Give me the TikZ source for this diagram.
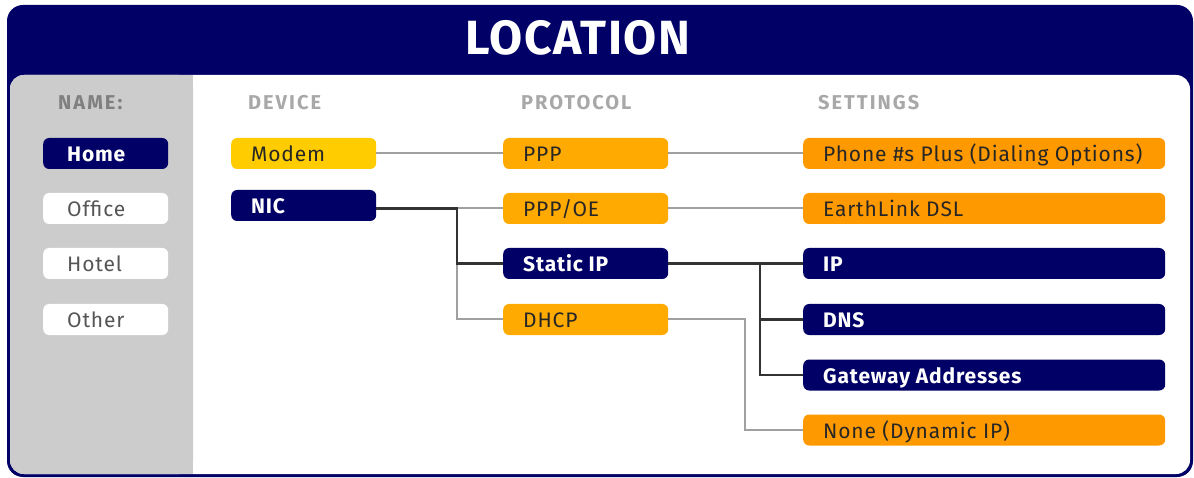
\documentclass[tikz,border=0pt]{standalone}
\usepackage{fontspec}
\setmainfont{Fira Sans}[LetterSpace=4]
\newfontfamily\hdrfont{Fira Sans}[LetterSpace=10]
\newfontfamily\titlefont{Fira Sans}[LetterSpace=3]
\definecolor{navy}{HTML}{000066}
\definecolor{yell}{HTML}{FFCC00}
\definecolor{orgA}{HTML}{FFAA00}
\definecolor{orgB}{HTML}{FF9900}
\definecolor{panel}{HTML}{CCCCCC}
\definecolor{hdr}{HTML}{A8A8A8}
\definecolor{hdrdark}{HTML}{808080}
\definecolor{txtgray}{HTML}{555555}
\definecolor{lightline}{HTML}{A0A0A0}
\definecolor{darkline}{HTML}{333333}
\newcommand{\bt}[2]{\makebox[#1][l]{#2}}
\tikzset{
  box/.style={rounded corners=6pt, minimum height=31pt, inner ysep=0pt, inner xsep=20pt, anchor=west,
    text height=17pt, text depth=0.5pt, font=\fontsize{21}{24}\selectfont},
  namebox/.style={box, fill=white, text=txtgray, inner xsep=24pt},
  homebox/.style={box, fill=navy, text=white, inner xsep=24pt, font=\fontsize{21}{24}\selectfont\bfseries},
  navybox/.style={box, fill=navy, text=white, font=\fontsize{21}{24}\selectfont\bfseries},
  yellbox/.style={box, fill=yell, text=black!85},
  protbox/.style={box, fill=orgA, text=black!85},
  setbox/.style={box, fill=orgB, text=black!85},
  header/.style={anchor=west, text=hdr, inner sep=0pt, font=\hdrfont\fontsize{20}{22}\selectfont\bfseries},
  light/.style={draw=lightline, line width=2pt},
  dark/.style={draw=darkline, line width=2.4pt},
}
\begin{document}
\begin{tikzpicture}[x=1pt,y=-1pt]
\useasboundingbox (0,0) rectangle (1194,478);
% frame
\fill[navy, rounded corners=16pt] (7,5) rectangle (1193,477);
\fill[white, rounded corners=14pt] (10,75) rectangle (1190,474);
\fill[panel, rounded corners=14pt] (10,75) rectangle (193,474);
\fill[panel] (150,75) rectangle (193,474);
\node[text=white, inner sep=0pt, font=\titlefont\fontsize{48}{52}\selectfont\bfseries] (title) at (578,38) {LOCATION};
% headers
\node[header, text=hdrdark] (hname) at (58,103) {NAME:};
\node[header] (hdev) at (248,103) {DEVICE};
\node[header] (hprot) at (521,103) {PROTOCOL};
\node[header] (hset) at (818,103) {SETTINGS};
% name column
\node[homebox, minimum width=125pt] (home) at (43,153.5) {\bt{77pt}{Home}};
\node[namebox, minimum width=125pt] (office) at (43,208.5) {\bt{77pt}{Office}};
\node[namebox, minimum width=125pt] (hotel) at (43,263.5) {\bt{77pt}{Hotel}};
\node[namebox, minimum width=125pt] (other) at (43,319.5) {\bt{77pt}{Other}};
% device column
\node[yellbox, minimum width=145pt] (modem) at (231,153.5) {\bt{105pt}{Modem}};
\node[navybox, minimum width=145pt] (nic) at (231,205.5) {\bt{105pt}{NIC}};
% protocol column
\node[protbox, minimum width=165pt] (ppp) at (503,153.5) {\bt{125pt}{PPP}};
\node[protbox, minimum width=165pt] (pppoe) at (503,208.5) {\bt{125pt}{PPP/OE}};
\node[navybox, minimum width=165pt] (static) at (503,263.5) {\bt{125pt}{Static IP}};
\node[protbox, minimum width=165pt] (dhcp) at (503,319.5) {\bt{125pt}{DHCP}};
% settings column
\node[setbox, minimum width=362pt] (phone) at (803,153.5) {\bt{322pt}{Phone \#s Plus (Dialing Options)}};
\node[setbox, minimum width=362pt] (earth) at (803,208.5) {\bt{322pt}{EarthLink DSL}};
\node[navybox, minimum width=362pt] (ip) at (803,263.5) {\bt{322pt}{IP}};
\node[navybox, minimum width=362pt] (dns) at (803,319.5) {\bt{322pt}{DNS}};
\node[navybox, minimum width=362pt] (gw) at (803,375) {\bt{322pt}{Gateway Addresses}};
\node[setbox, minimum width=362pt] (none) at (803,430) {\bt{322pt}{None (Dynamic IP)}};
% connectors
\coordinate (j1) at (457,208.5);
\coordinate (j2) at (760,263.5);
\coordinate (j3) at (745,319.5);
\draw[light] (modem.east) -- (ppp.west);
\draw[light] (ppp.east) -- (phone.west);
\draw[light] (pppoe.east) -- (earth.west);
\draw[light] (j1) -- (pppoe.west);
\draw[light] (j1) |- (dhcp.west);
\draw[light] (dhcp.east) -- (j3) |- (none.west);
\draw[dark] (nic.east |- j1) -- (j1) |- (static.west);
\draw[dark] (static.east) -- (j2) |- (gw.west);
\draw[dark] (j2) -- (ip.west);
\draw[dark] (j2 |- dns.west) -- (dns.west);
\end{tikzpicture}
\end{document}
